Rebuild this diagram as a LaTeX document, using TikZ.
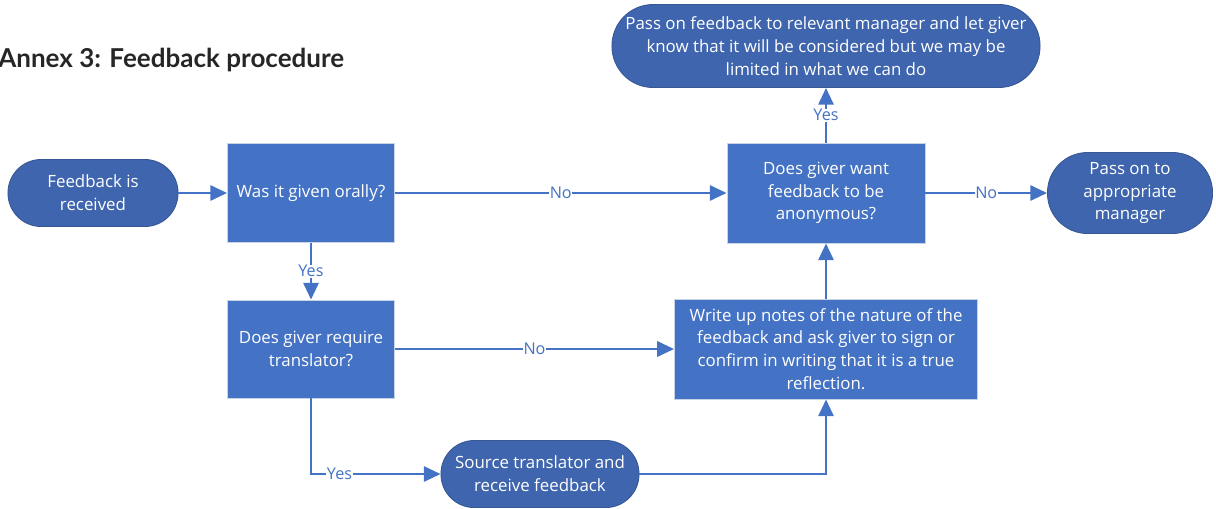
\documentclass[tikz,border=0pt]{standalone}
\usepackage{fontspec}
\setmainfont{Open Sans}
\newfontfamily\titlefont{Lato}
\usepackage{tikz}
\usetikzlibrary{positioning,arrows.meta,calc}
\definecolor{boxblue}  {HTML}{4472C4}
\definecolor{termblue} {HTML}{3F65AE}
\definecolor{boxedge}  {HTML}{C9D3E6}
\definecolor{titleink} {HTML}{262626}
\tikzset{
  % --- nodes
  box/.style   = {draw=boxedge, line width=0.6pt, fill=boxblue, text=white, align=center,
                  inner sep=3pt, font=\fontsize{12}{16.2}\selectfont},
  term/.style  = {box, draw=termblue!85!black, fill=termblue},
  lbl/.style   = {fill=white, inner sep=0.5pt, text=boxblue, font=\fontsize{11.5}{13}\selectfont},
  % --- edges
  e/.style     = {-{Triangle[length=0.42cm,width=0.38cm]}, line width=1.8pt, draw=boxblue},
}
\begin{document}
\begin{tikzpicture}[x=0.025cm, y=-0.025cm]
  \clip (0,0) rectangle (1216,508);
  \node[anchor=west, font=\titlefont\bfseries\fontsize{18.5}{22}\selectfont, text=titleink,
        inner sep=0pt] (title) at (-2,60) {Annex 3: Feedback procedure};

  \node[term, minimum width=4.25cm, minimum height=1.675cm, rounded corners=0.83cm]
    (recv) at (93,193) {Feedback is\\received};
  \node[box, minimum width=4.175cm, minimum height=2.475cm]
    (orally) at (311,193) {Was it given orally?};
  \node[box, minimum width=4.95cm, minimum height=2.5cm]
    (anon) at (826,193) {Does giver want\\feedback to be\\anonymous?};
  \node[term, minimum width=4.125cm, minimum height=2.025cm, rounded corners=1cm]
    (mgr) at (1130,193) {Pass on to\\appropriate\\manager};
  \node[term, minimum width=10.7cm, minimum height=2.075cm, rounded corners=1.03cm]
    (pass) at (826,46) {Pass on feedback to relevant manager and let giver\\know that it will be considered but we may be\\limited in what we can do};
  \node[box, minimum width=4.175cm, minimum height=2.45cm]
    (transl) at (311,349) {Does giver require\\translator?};
  \node[box, minimum width=7.575cm, minimum height=2.5cm]
    (notes) at (826,349) {Write up notes of the nature of the\\feedback and ask giver to sign or\\confirm in writing that it is a true\\reflection.};
  \node[term, minimum width=4.95cm, minimum height=1.675cm, rounded corners=0.83cm]
    (source) at (540,474) {Source translator and\\receive feedback};

  \draw[e] (recv) -- (orally);
  \draw[e] (orally) -- node[lbl] {No} (anon);
  \draw[e] (anon) -- node[lbl] {No} (mgr);
  \draw[e] (anon) -- node[lbl] {Yes} (pass);
  \draw[e] (orally) -- node[lbl] {Yes} (transl);
  \draw[e] (transl) -- node[lbl] {No} (notes);
  \draw[e] (transl.south) |- node[lbl, pos=0.61] {Yes} (source.west);
  \draw[e] (source.east) -| (notes.south);
  \draw[e] (notes) -- (anon);
\end{tikzpicture}
\end{document}
